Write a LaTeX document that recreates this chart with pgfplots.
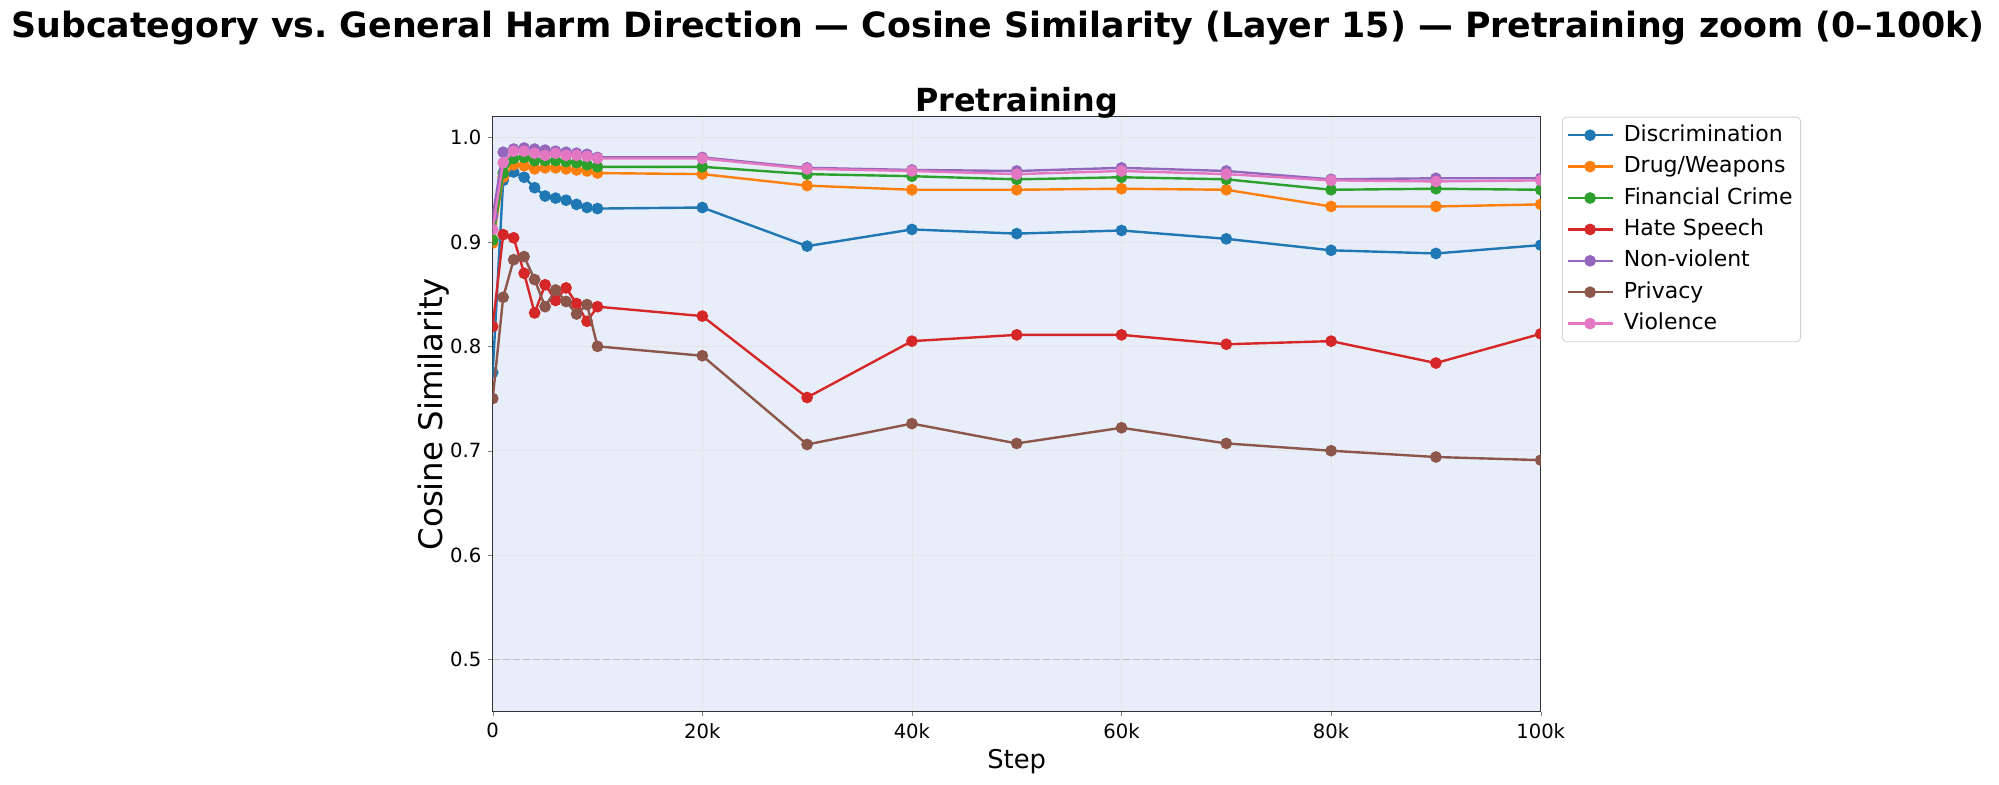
\documentclass[border=0pt]{standalone}
\usepackage{fontspec}
\setmainfont{DejaVu Sans}
\usepackage{pgfplots}
\pgfplotsset{compat=1.18}
\definecolor{c1}{HTML}{1F77B4}
\definecolor{c2}{HTML}{FF7F0E}
\definecolor{c3}{HTML}{2CA02C}
\definecolor{c4}{HTML}{D62728}
\definecolor{c5}{HTML}{9467BD}
\definecolor{c6}{HTML}{8C564B}
\definecolor{c7}{HTML}{E377C2}
\definecolor{bgc}{RGB}{232,238,249}
\begin{document}
\begin{tikzpicture}
\useasboundingbox (0,0) rectangle (999.5pt,392pt);
\node[font=\fontsize{17.4}{20}\selectfont\bfseries] at (499pt,378pt) {Subcategory vs.\ General Harm Direction — Cosine Similarity (Layer 15) — Pretraining zoom (0–100k)};
\begin{axis}[
  at={(246.35pt,36.15pt)}, anchor=south west,
  scale only axis, width=524pt, height=297.5pt,
  xmin=0, xmax=100, ymin=0.45, ymax=1.02,
  xtick={0,20,40,60,80,100}, xticklabels={0,20k,40k,60k,80k,100k},
  ytick={0.5,0.6,0.7,0.8,0.9,1.0},
  yticklabel style={/pgf/number format/fixed, /pgf/number format/precision=1, /pgf/number format/fixed zerofill},
  /pgf/number format/assume math mode=true,
  tick label style={font=\fontsize{9.8}{11}\selectfont},
  tick align=outside, tick pos=left, major tick length=2.2pt,
  axis background/.style={fill=bgc},
  grid=major, major grid style={color=black!10, line width=0.4pt},
  axis line style={black!80, line width=0.5pt},
  clip marker paths=true,
  title={Pretraining}, title style={font=\fontsize{15.9}{18}\selectfont\bfseries, at={(axis description cs:0.5,1)}, anchor=center, yshift=0.9pt},
  xlabel={Step}, xlabel style={font=\fontsize{12.9}{15}\selectfont, at={(axis description cs:0.5,0)}, anchor=base, yshift=-28.3pt},
  ylabel={Cosine Similarity}, ylabel style={font=\fontsize{16.2}{19}\selectfont, at={(axis description cs:-0.0565,0.5)}, anchor=center},
  legend cell align=left,
  legend style={at={(axis description cs:1,1)}, anchor=north west, xshift=10.65pt,
    draw=black!18, rounded corners=2pt, fill=white,
    font=\fontsize{11}{13}\selectfont, inner xsep=2pt, inner ysep=1.2pt,
    nodes={text height=8.7pt, text depth=2.6pt, inner ysep=2.2pt},
    /tikz/every odd column/.append style={column sep=3pt}},
  legend image code/.code={\draw[mark repeat=2,mark phase=2,#1] plot coordinates {(0pt,0pt) (11.25pt,0pt) (22.5pt,0pt)};},
  every axis plot/.append style={line width=1.2pt, mark=*, mark size=2.3pt},
]
\addplot[forget plot, black!25, line width=0.5pt, dash pattern=on 3.5pt off 1.5pt, mark=none] coordinates {(0,0.5) (100,0.5)};
\addplot[color=c1] coordinates {(0,0.775)(1,0.959)(2,0.967)(3,0.962)(4,0.952)(5,0.944)(6,0.942)(7,0.940)(8,0.936)(9,0.933)(10,0.932)(20,0.933)(30,0.896)(40,0.912)(50,0.908)(60,0.911)(70,0.903)(80,0.892)(90,0.889)(100,0.897)};
\addlegendentry{Discrimination}
\addplot[color=c2] coordinates {(0,0.899)(1,0.962)(2,0.974)(3,0.973)(4,0.970)(5,0.971)(6,0.971)(7,0.970)(8,0.969)(9,0.968)(10,0.966)(20,0.965)(30,0.954)(40,0.950)(50,0.950)(60,0.951)(70,0.950)(80,0.934)(90,0.934)(100,0.936)};
\addlegendentry{Drug/Weapons}
\addplot[color=c3] coordinates {(0,0.902)(1,0.966)(2,0.980)(3,0.981)(4,0.978)(5,0.978)(6,0.978)(7,0.977)(8,0.976)(9,0.974)(10,0.972)(20,0.972)(30,0.965)(40,0.963)(50,0.960)(60,0.962)(70,0.960)(80,0.950)(90,0.951)(100,0.950)};
\addlegendentry{Financial Crime}
\addplot[color=c4] coordinates {(0,0.819)(1,0.907)(2,0.904)(3,0.870)(4,0.832)(5,0.859)(6,0.844)(7,0.856)(8,0.841)(9,0.824)(10,0.838)(20,0.829)(30,0.751)(40,0.805)(50,0.811)(60,0.811)(70,0.802)(80,0.805)(90,0.784)(100,0.812)};
\addlegendentry{Hate Speech}
\addplot[color=c5] coordinates {(0,0.925)(1,0.986)(2,0.989)(3,0.990)(4,0.989)(5,0.988)(6,0.987)(7,0.986)(8,0.985)(9,0.984)(10,0.981)(20,0.981)(30,0.971)(40,0.969)(50,0.968)(60,0.971)(70,0.968)(80,0.960)(90,0.961)(100,0.961)};
\addlegendentry{Non-violent}
\addplot[color=c6] coordinates {(0,0.750)(1,0.847)(2,0.883)(3,0.886)(4,0.864)(5,0.838)(6,0.854)(7,0.843)(8,0.831)(9,0.840)(10,0.800)(20,0.791)(30,0.706)(40,0.726)(50,0.707)(60,0.722)(70,0.707)(80,0.700)(90,0.694)(100,0.691)};
\addlegendentry{Privacy}
\addplot[color=c7] coordinates {(0,0.912)(1,0.976)(2,0.987)(3,0.987)(4,0.985)(5,0.983)(6,0.985)(7,0.983)(8,0.983)(9,0.982)(10,0.980)(20,0.980)(30,0.970)(40,0.968)(50,0.965)(60,0.968)(70,0.965)(80,0.959)(90,0.958)(100,0.959)};
\addlegendentry{Violence}
\end{axis}
\end{tikzpicture}
\end{document}
